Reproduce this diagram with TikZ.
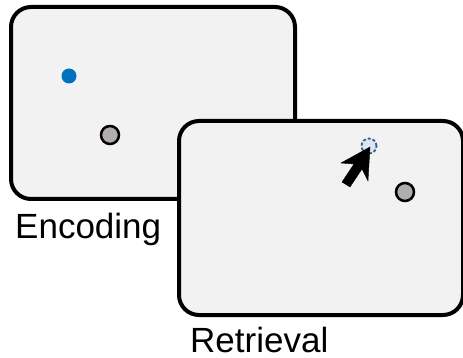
\documentclass[tikz,border=0pt]{standalone}
\usepackage{fontspec}
\setmainfont{Liberation Sans}
\definecolor{screenfill}{HTML}{F2F2F2}
\definecolor{dotblue}{HTML}{0070C0}
\definecolor{dotgray}{HTML}{B1ADAD}
\definecolor{probeline}{HTML}{2F5F8F}
\definecolor{probefill}{HTML}{DCE6F1}
\tikzset{
	screen/.style={draw,line width=4pt,fill=screenfill,rounded corners=20pt,inner sep=0,outer sep=0},
	target/.style={circle,fill=dotblue,inner sep=0,minimum size=15pt},
	landmark/.style={draw,circle,line width=2.5pt,fill=dotgray,inner sep=0,minimum size=18pt},
	probe/.style={draw=probeline,dash pattern=on 3pt off 2pt,circle,line width=1.8pt,fill=probefill,inner sep=0,minimum size=15pt},
	caption/.style={inner sep=0,anchor=base west,font=\fontsize{35}{40}\selectfont}
}
\begin{document}
\begin{tikzpicture}[x=1pt,y=-1pt]
	\useasboundingbox (0,0) rectangle (463,358);
	\node[screen,minimum width=284pt,minimum height=192pt] (enc) at (153,103) {};
	\node[target] (t1) at (69,76) {};
	\node[landmark] (l1) at (110,135) {};
	\node[screen,minimum width=284pt,minimum height=194pt] (ret) at (321,218) {};
	\node[probe] (p2) at (369,146) {};
	\node[landmark] (l2) at (405,192) {};
	\draw[fill=black,line join=miter] (370,147) -- (341,163) -- (354,164) -- (342,182) -- (350,187) -- (362,169) -- (368,181) -- cycle;
	\node[caption] (enclabel) at (15,238) {Encoding};
	\node[caption] (retlabel) at (190,352) {Retrieval};
\end{tikzpicture}
\end{document}
